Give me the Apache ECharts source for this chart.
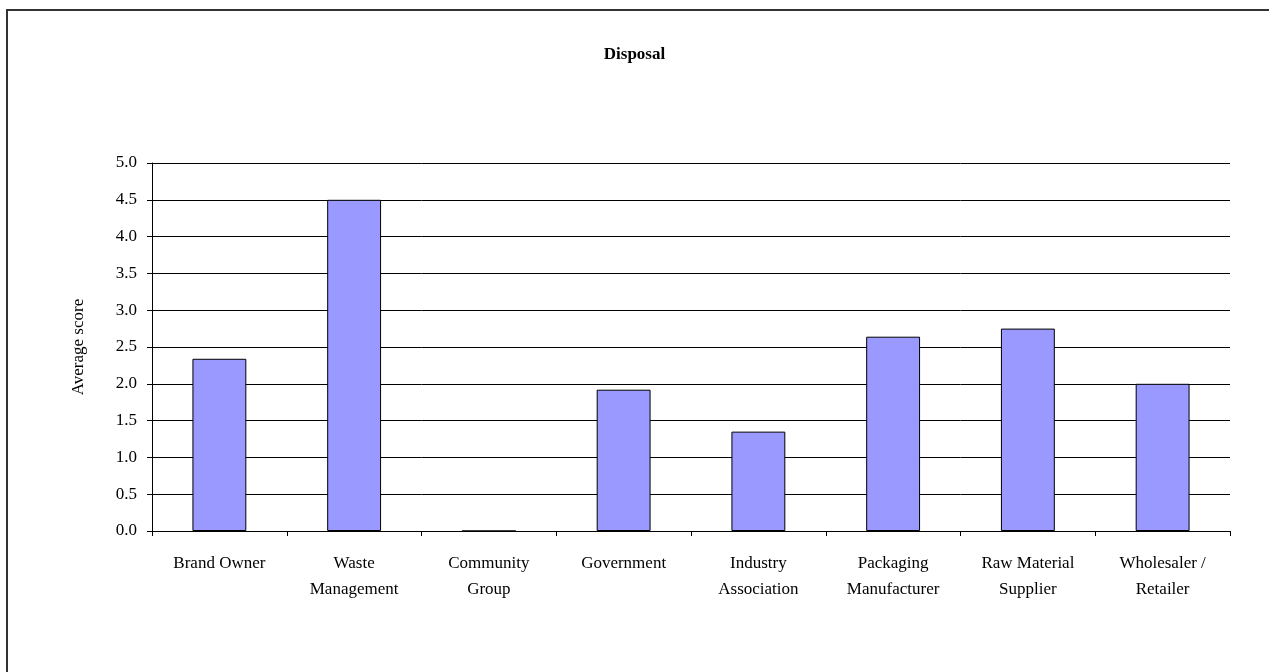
<!DOCTYPE html>
<html><head><meta charset="utf-8">
<script src="https://cdn.jsdelivr.net/npm/echarts@6/dist/echarts.min.js"></script>
<style>html,body{margin:0;padding:0;background:#fff}#c{width:1269px;height:672px}</style>
</head><body><div id="c"></div>
<script>
const categories = ['Brand Owner', 'Waste\nManagement', 'Community\nGroup', 'Government', 'Industry\nAssociation', 'Packaging\nManufacturer', 'Raw Material\nSupplier', 'Wholesaler /\nRetailer'];
const values = [2.34, 4.5, 0, 1.92, 1.35, 2.64, 2.75, 2.0];
const chart = echarts.init(document.getElementById('c'));
const font = 'Liberation Serif, Times New Roman, serif';
chart.setOption({
  animation: false,
  backgroundColor: '#fff',
  textStyle: {fontFamily: font},
  title: {text: 'Disposal', left: 'center', top: 41, textStyle: {fontFamily: font, fontSize: 17, fontWeight: 'bold', color: '#000'}},
  graphic: [{type: 'rect', shape: {x: 7, y: 10, width: 1300, height: 700}, style: {fill: 'none', stroke: '#333', lineWidth: 2}, silent: true}],
  grid: {left: 152, right: 39, top: 163, bottom: 141},
  xAxis: {
    type: 'category', data: categories,
    axisLine: {lineStyle: {color: '#000', width: 1}},
    axisTick: {show: true, length: 5, lineStyle: {color: '#000'}},
    axisLabel: {color: '#000', fontSize: 17, fontFamily: font, margin: 20, lineHeight: 26, interval: 0}
  },
  yAxis: {
    type: 'value', min: 0, max: 5, interval: 0.5,
    name: 'Average score', nameLocation: 'middle', nameGap: 65, nameRotate: 90,
    nameTextStyle: {color: '#000', fontSize: 17, fontFamily: font},
    axisLine: {show: true, lineStyle: {color: '#000', width: 1}},
    axisTick: {show: true, length: 5, lineStyle: {color: '#000'}},
    axisLabel: {color: '#000', fontSize: 17, fontFamily: font, margin: 15, formatter: v => v.toFixed(1)},
    splitLine: {show: true, lineStyle: {color: '#000', width: 1}}
  },
  series: [{
    type: 'bar', data: values, barCategoryGap: '60%',
    itemStyle: {color: '#9999FF', borderColor: '#000', borderWidth: 1}
  }]
});
</script></body></html>
